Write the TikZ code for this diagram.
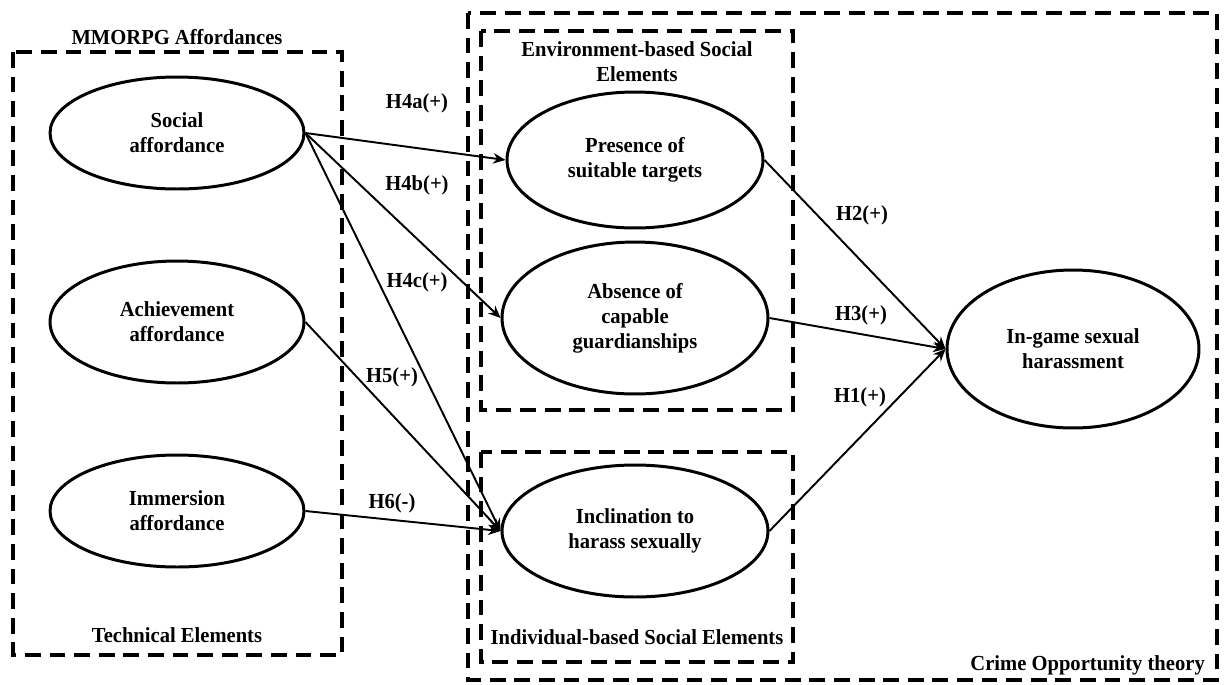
\documentclass[tikz,border=0pt]{standalone}
\usepackage{fontspec}
\setmainfont{Liberation Serif}[FakeStretch=0.96]
\usetikzlibrary{shapes.geometric,arrows.meta}

\tikzset{
  construct/.style={ellipse, draw, line width=1.7pt, align=center, inner sep=0pt},
  grouping/.style={draw, line width=2.3pt, dash pattern=on 9pt off 5pt},
  hpath/.style={-{Stealth[length=7pt,width=6pt]}, line width=1.1pt},
}

\begin{document}
\begin{tikzpicture}[x=0.02cm, y=-0.02cm, font=\fontsize{12.2}{14.2}\selectfont\bfseries]
      \useasboundingbox (0,0) rectangle (1224,684);

      \draw[grouping] (13,52) rectangle (342,655);
      \draw[grouping] (468,13) rectangle (1217,680);
      \draw[grouping] (481,31) rectangle (793,410);
      \draw[grouping] (481,452) rectangle (793,662);

      \node (mmorpg) at (177,37) {MMORPG Affordances};
      \node (technical) at (177,635) {Technical Elements};
      \node[align=center] (environment) at (637,62) {Environment-based Social\\Elements};
      \node (individual) at (637,637) {Individual-based Social Elements};
      \node[anchor=east] (crime) at (1211,665) {Crime Opportunity theory};

      \node[construct, minimum width=5.08cm, minimum height=2.24cm] (social) at (177,133) {Social\\affordance};
      \node[construct, minimum width=5.08cm, minimum height=2.44cm] (achieve) at (177,322) {Achievement\\affordance};
      \node[construct, minimum width=5.08cm, minimum height=2.24cm] (immerse) at (177,511) {Immersion\\affordance};
      \node[construct, minimum width=5.12cm, minimum height=2.72cm] (presence) at (635,160) {Presence of\\suitable targets};
      \node[construct, minimum width=5.32cm, minimum height=3.04cm] (absence) at (635,318) {Absence of\\capable\\guardianships};
      \node[construct, minimum width=5.32cm, minimum height=2.64cm] (incline) at (635,531) {Inclination to\\harass sexually};
      \node[construct, minimum width=5.04cm, minimum height=3.16cm] (ingame) at (1073,349) {In-game sexual\\harassment};

      \draw[hpath] (social.east) -- (presence.west);
      \draw[hpath] (social.east) -- (absence.west);
      \draw[hpath] (social.east) -- (incline.west);
      \draw[hpath] (achieve.east) -- (incline.west);
      \draw[hpath] (immerse.east) -- (incline.west);
      \draw[hpath] (presence.east) -- (ingame.west);
      \draw[hpath] (absence.east) -- (ingame.west);
      \draw[hpath] (incline.east) -- (ingame.west);

      \node (h4a) at (417,103) {H4a(+)};
      \node (h4b) at (417,185) {H4b(+)};
      \node (h4c) at (417,282) {H4c(+)};
      \node (h5) at (392,377) {H5(+)};
      \node (h6) at (392,503) {H6(-)};
      \node (h2) at (862,215) {H2(+)};
      \node (h3) at (861,315) {H3(+)};
      \node (h1) at (860,397) {H1(+)};
    \end{tikzpicture}
\end{document}
